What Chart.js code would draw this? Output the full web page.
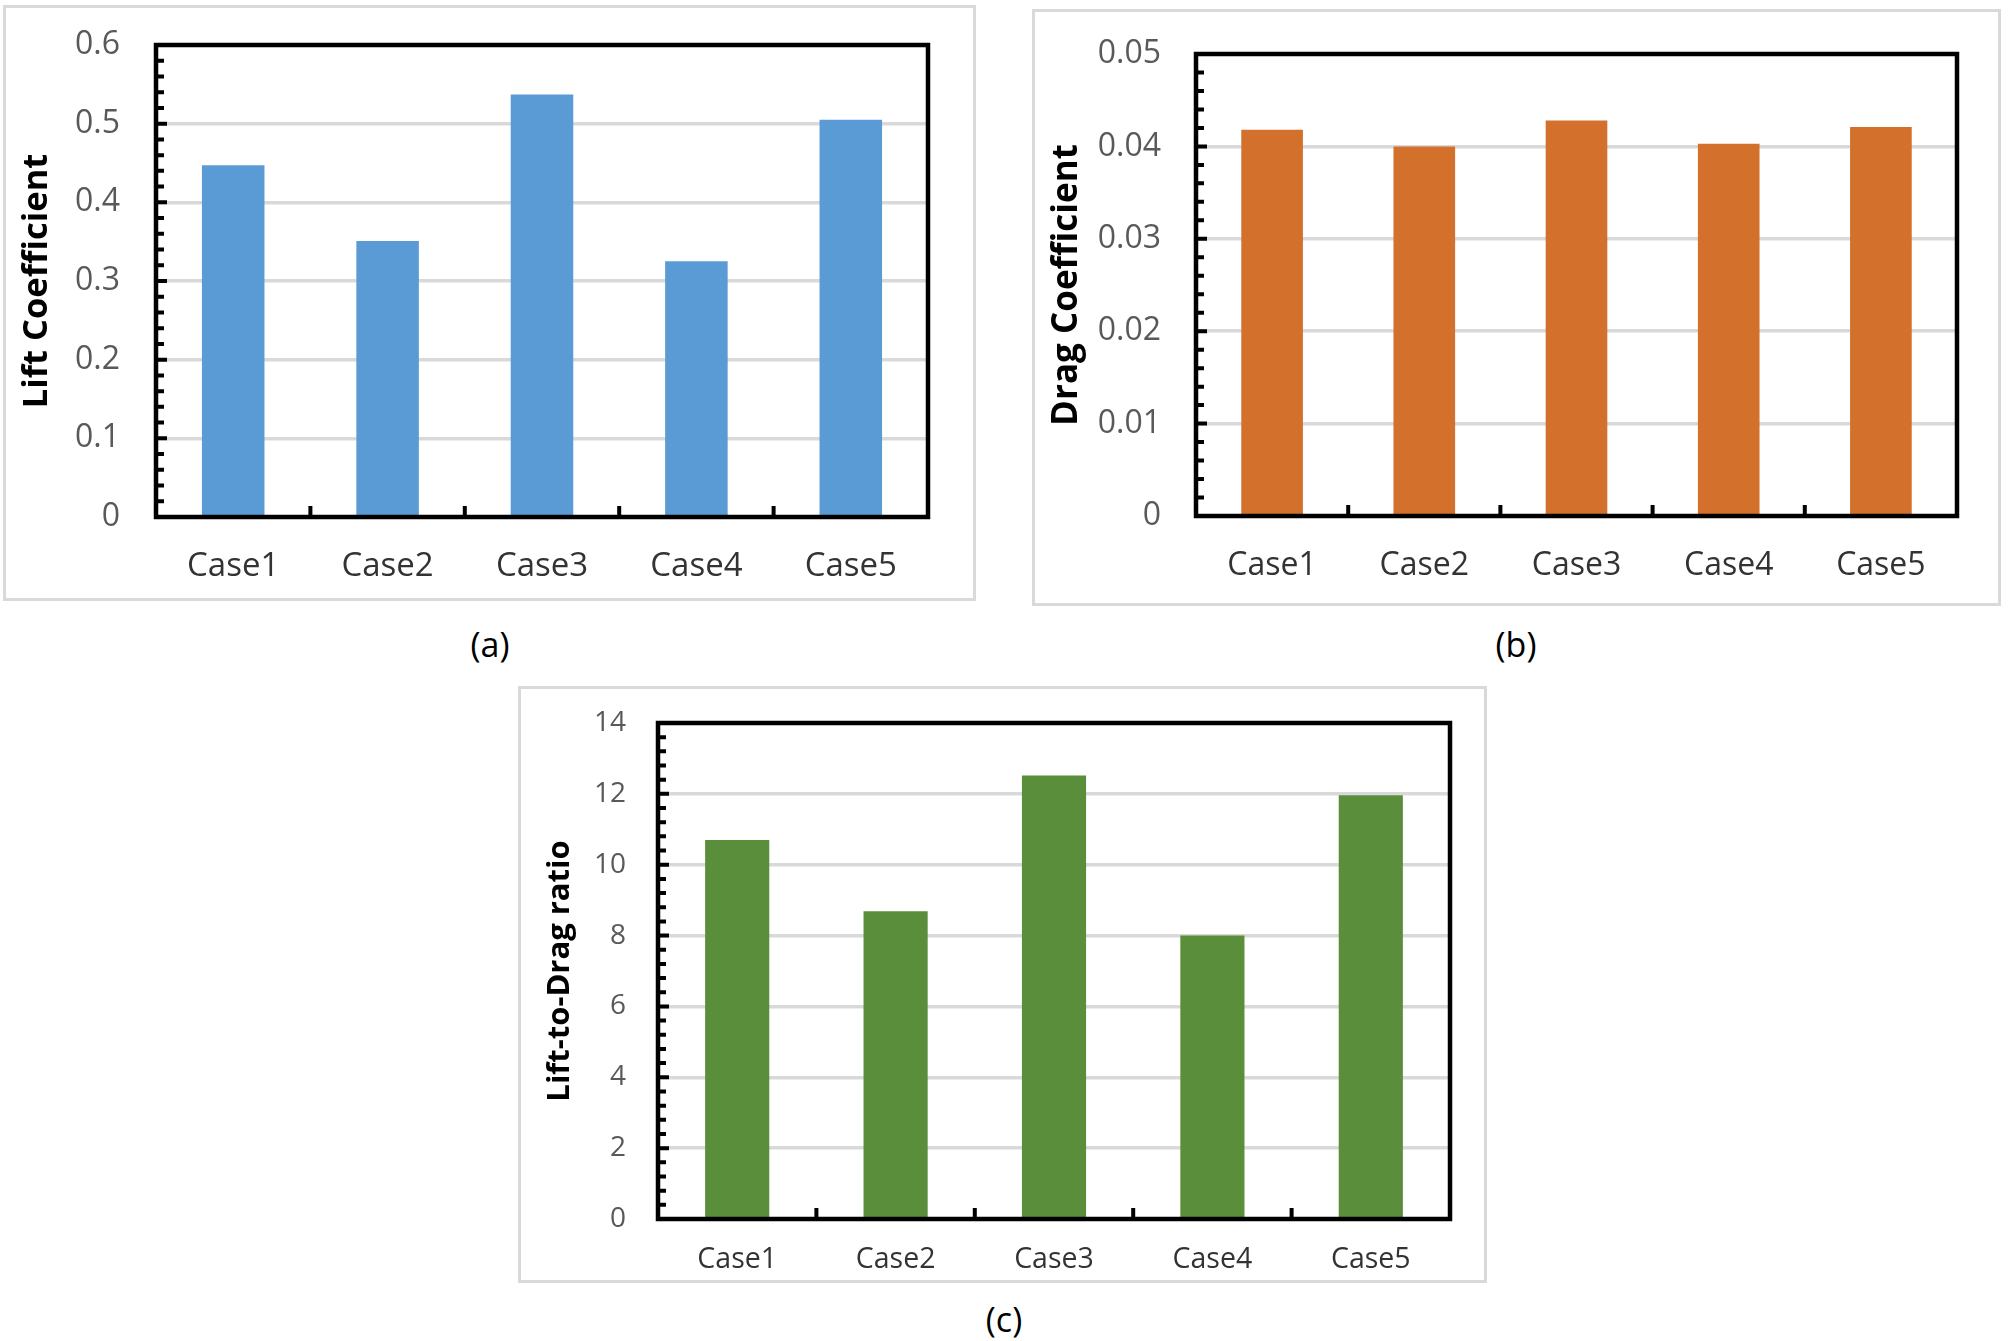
<!DOCTYPE html>
<html>
<head>
<meta charset="utf-8">
<script src="https://cdn.jsdelivr.net/npm/chart.js@4.4.1/dist/chart.umd.min.js"></script>
<style>
  body { margin: 0; background: #fff; width: 2008px; height: 1341px; position: relative; overflow: hidden; }
  .panel { position: absolute; box-sizing: border-box; border: 3px solid #d9d9d9; }
  .panel canvas { display: block; }
  .cap { position: absolute; font-family: "Open Sans", sans-serif; font-size: 34px; color: #000; transform: translate(-50%, -50%); white-space: nowrap; }
</style>
</head>
<body>
<div class="panel" id="pa" style="left:3px;top:5px;width:973px;height:596px"><canvas id="chartA" width="967" height="590"></canvas></div>
<div class="panel" id="pb" style="left:1032px;top:9px;width:969px;height:597px"><canvas id="chartB" width="963" height="591"></canvas></div>
<div class="panel" id="pc" style="left:518px;top:686px;width:969px;height:597px"><canvas id="chartC" width="963" height="591"></canvas></div>
<div class="cap" style="left:490px;top:644px">(a)</div>
<div class="cap" style="left:1516px;top:644px">(b)</div>
<div class="cap" style="left:1004px;top:1319px">(c)</div>
<script>
var cases = ['Case1', 'Case2', 'Case3', 'Case4', 'Case5'];
var liftCoef = [0.447, 0.351, 0.537, 0.325, 0.505];
var dragCoef = [0.0418, 0.0400, 0.0428, 0.0403, 0.0421];
var liftToDrag = [10.70, 8.69, 12.52, 8.00, 11.96];
var liftTicks = ['0', '0.1', '0.2', '0.3', '0.4', '0.5', '0.6'];
var dragTicks = ['0', '0.01', '0.02', '0.03', '0.04', '0.05'];
var ratioTicks = ['0', '2', '4', '6', '8', '10', '12', '14'];

// frame, inner minor ticks on y, category ticks on x
var framePlugin = {
  id: 'frame',
  afterDraw: function(chart, args, opts) {
    var ctx = chart.ctx;
    var a = chart.chartArea;
    var y = chart.scales.y;
    var x = chart.scales.x;
    ctx.save();
    ctx.strokeStyle = '#000';
    ctx.lineWidth = 4;
    ctx.beginPath();
    var n = Math.round((y.max - y.min) / opts.minor);
    for (var i = 1; i < n; i++) {
      var py = y.getPixelForValue(y.min + i * opts.minor);
      var len = (i % 5 === 0) ? 11 : 8;
      ctx.moveTo(a.left, py);
      ctx.lineTo(a.left + len, py);
    }
    for (var j = 0; j < cases.length - 1; j++) {
      var px = (x.getPixelForValue(j) + x.getPixelForValue(j + 1)) / 2;
      ctx.moveTo(px, a.bottom);
      ctx.lineTo(px, a.bottom - 11);
    }
    ctx.stroke();
    ctx.lineWidth = 4.5;
    ctx.strokeRect(a.left, a.top, a.right - a.left, a.bottom - a.top);
    ctx.restore();
  }
};

function makeChart(id, values, color, tickLabels, yMax, step, minor, title, sz) {
  var ctx = document.getElementById(id).getContext('2d');
  return new Chart(ctx, {
    type: 'bar',
    data: {
      labels: cases,
      datasets: [{
        data: values,
        backgroundColor: color,
        borderWidth: 0,
        categoryPercentage: 1.0,
        barPercentage: 0.405
      }]
    },
    options: {
      responsive: false,
      animation: false,
      layout: { padding: { top: sz.top, right: sz.right, left: 0, bottom: 0 } },
      plugins: { legend: { display: false }, tooltip: { enabled: false }, frame: { minor: minor } },
      scales: {
        x: {
          grid: { display: false },
          border: { display: false },
          ticks: { color: '#333', padding: sz.xPad, font: { family: 'Open Sans', size: sz.xFont } },
          afterFit: function(s) { s.height = sz.xh; }
        },
        y: {
          min: 0,
          max: yMax,
          // invisible tick marks keep the label gap without growing the top padding
          grid: { color: '#d9d9d9', lineWidth: 3.5, drawTicks: true, tickLength: sz.yPad, tickColor: 'rgba(0,0,0,0)' },
          border: { display: false },
          ticks: {
            stepSize: step,
            color: '#595959',
            padding: 0,
            font: { family: 'Open Sans', size: sz.yFont },
            callback: function(v, i) { return tickLabels[i]; }
          },
          title: {
            display: true,
            text: title,
            color: '#000',
            padding: { top: sz.tPad, bottom: 0 },
            font: { family: 'Open Sans', weight: 'bold', size: sz.tFont }
          },
          afterFit: function(s) { s.width = sz.yw; }
        }
      }
    },
    plugins: [framePlugin]
  });
}

makeChart('chartA', liftCoef, '#5B9BD5', liftTicks, 0.6, 0.1, 0.02, 'Lift Coefficient',
  { top: 37, right: 45, yw: 150, xh: 81, xPad: 22, yPad: 36, xFont: 33, yFont: 32, tFont: 34.5, tPad: 10 });
makeChart('chartB', dragCoef, '#D2702C', dragTicks, 0.05, 0.01, 0.002, 'Drag Coefficient',
  { top: 42, right: 41, yw: 161, xh: 87, xPad: 23, yPad: 35, xFont: 32, yFont: 32, tFont: 35, tPad: 11 });
makeChart('chartC', liftToDrag, '#5B8E3A', ratioTicks, 14, 2, 0.4, 'Lift-to-Drag ratio',
  { top: 34, right: 34, yw: 137, xh: 61, xPad: 16, yPad: 32, xFont: 28.5, yFont: 28, tFont: 31, tPad: 21 });
</script>
</body>
</html>
